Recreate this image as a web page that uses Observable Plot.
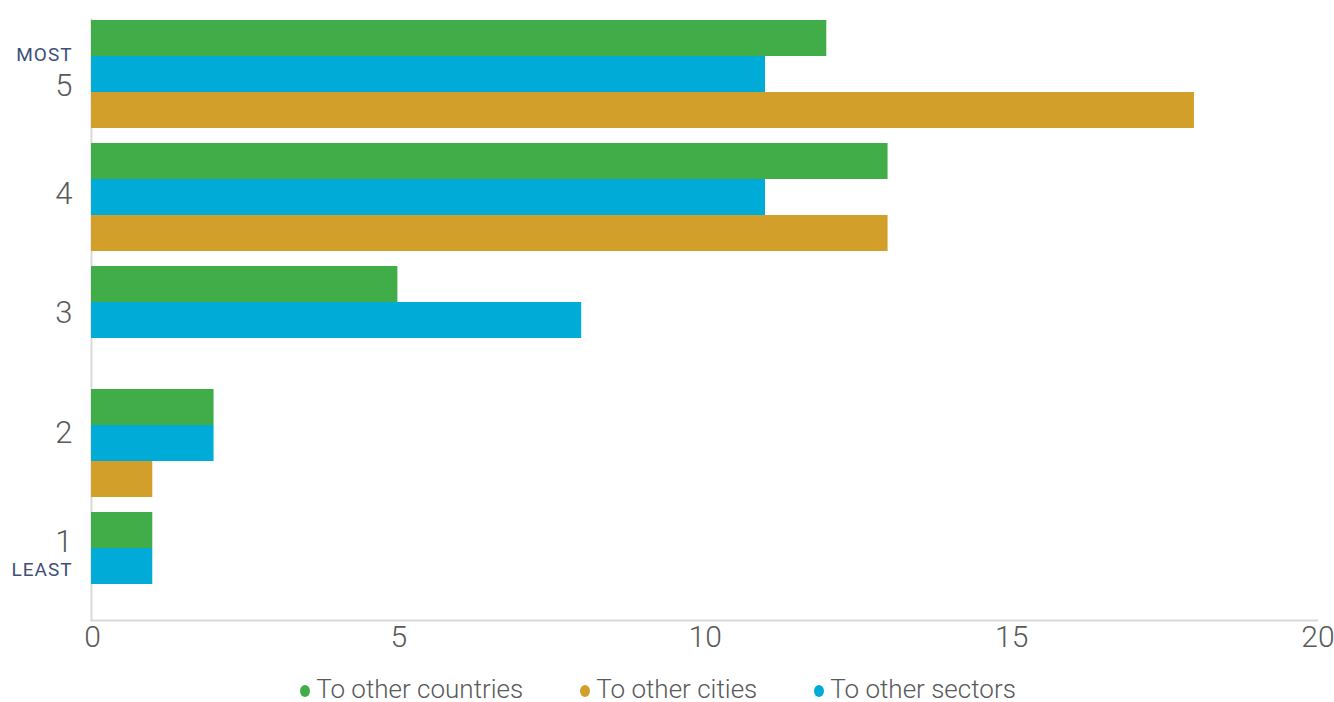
<!DOCTYPE html>
<html>
<head>
<meta charset="utf-8">
<script src="https://cdn.jsdelivr.net/npm/d3@7"></script>
<script src="https://cdn.jsdelivr.net/npm/@observablehq/plot@0.6"></script>
<style>
  html, body { margin: 0; background: #fff; font-family: Roboto, sans-serif; font-weight: 300; overflow: hidden; }
  #chart svg { display: block; }
  #legend { display: flex; justify-content: center; align-items: center; gap: 57px; padding-top: 17px; padding-right: 18px; font-size: 26px; line-height: 24px; color: #595959; font-weight: 300; }
  #legend .item { display: flex; align-items: center; }
  #legend .dot { width: 10px; height: 12px; border-radius: 50%; margin-right: 6px; position: relative; top: 2px; }
</style>
</head>
<body>
<div id="chart"></div>
<div id="legend"></div>
<script>
// ---- data ----
const ranks = ["5", "4", "3", "2", "1"];
const seriesNames = ["To other countries", "To other sectors", "To other cities"];
const countries = [12, 13, 5, 2, 1];
const sectors = [11, 11, 8, 2, 1];
const cities = [18, 13, 0, 1, 0];
const legendOrder = ["To other countries", "To other cities", "To other sectors"];
const xTicks = [0, 5, 10, 15, 20];
const rankNotes = [{rank: "5", note: "MOST"}, {rank: "1", note: "LEAST"}];

// ---- build rows ----
const seriesValues = [countries, sectors, cities];
const rows = [];
ranks.forEach((r, i) => {
  seriesNames.forEach((s, j) => rows.push({rank: r, series: s, value: seriesValues[j][i]}));
});

const colorMap = {
  "To other countries": "#41AD49",
  "To other sectors": "#00ACD7",
  "To other cities": "#D39F2B"
};
const gray = "#595959";
const font = 'Roboto, sans-serif';

// vertical tweaks of the rank labels (style)
const labelDy = {"5": 12, "4": -2.5, "3": -7, "2": -10, "1": -24};
const noteDy = {"5": -19.5, "1": 3.5};

const plot = Plot.plot({
  width: 1334,
  height: 660,
  marginLeft: 91,
  marginRight: 17.5,
  marginTop: 13,
  marginBottom: 43,
  style: {fontFamily: font, fontWeight: 300, color: gray, background: "#fff"},
  x: {domain: [0, 20], axis: null},
  fy: {domain: ranks, range: [11, 628], paddingInner: 0.113, paddingOuter: 0.0565, axis: null},
  y: {domain: seriesNames, padding: 0, axis: null},
  color: {domain: seriesNames, range: seriesNames.map(s => colorMap[s])},
  marks: [
    Plot.frame({anchor: "left", facet: "super", stroke: "#d9d9d9", strokeWidth: 2}),
    Plot.frame({anchor: "bottom", facet: "super", stroke: "#d9d9d9", strokeWidth: 2}),
    Plot.barX(rows, {fy: "rank", y: "series", x: "value", fill: "series"}),
    Plot.axisX({ticks: xTicks, tickSize: 0, tickPadding: 5, fontSize: 30, fill: gray, label: null, dx: 1}),
    ...ranks.map(r => Plot.text([r], {
      fy: d => d, text: d => d, frameAnchor: "left", textAnchor: "end",
      dx: -19, dy: labelDy[r], fontSize: 31, fill: gray
    })),
    ...rankNotes.map(n => Plot.text([n], {
      fy: "rank", text: "note", frameAnchor: "left", textAnchor: "end",
      dx: -19, dy: noteDy[n.rank], fontSize: 19, fontWeight: 400, fill: "#3E4F7A"
    }))
  ]
});

d3.select(plot).selectAll("text")
  .filter(function() { return rankNotes.some(n => n.note === this.textContent); })
  .style("letter-spacing", "1px");

document.getElementById("chart").appendChild(plot);

// ---- legend ----
const legend = d3.select("#legend");
legendOrder.forEach(s => {
  const item = legend.append("div").attr("class", "item");
  item.append("span").attr("class", "dot").style("background", colorMap[s]);
  item.append("span").text(s);
});
</script>
</body>
</html>
